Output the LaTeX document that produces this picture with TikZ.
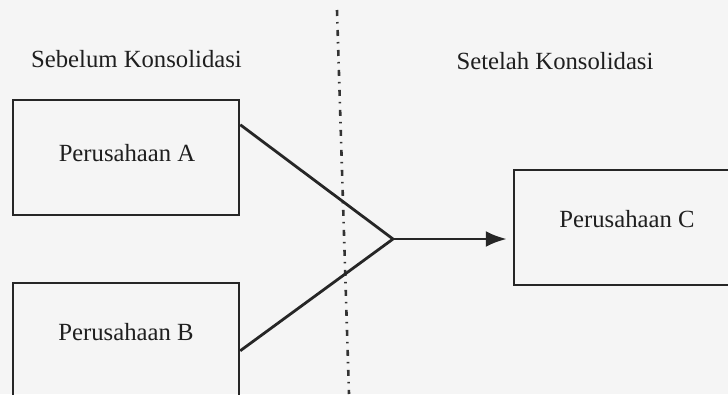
\documentclass[tikz,border=0pt]{standalone}
\usepackage{fontspec}
\setmainfont{Liberation Serif}
\usetikzlibrary{arrows.meta}
\begin{document}
\begin{tikzpicture}[x=1pt,y=-1pt,
  every node/.style={font=\fontsize{24.7}{29}\selectfont, text=black!88},
  firm/.style={draw=black!85, line width=2.5pt, rectangle, inner sep=0pt},
  link/.style={draw=black!85, line width=2.8pt},
  divider/.style={draw=black!80, line width=2.6pt,
    dash pattern=on 6pt off 6pt on 1.5pt off 6.5pt}]
  % canvas
  \fill[black!4] (0,0) rectangle (728,394);
  \useasboundingbox (0,0) rectangle (728,394);
  \clip (0,0) rectangle (728,394);

  % boundary between the two stages
  \coordinate (top) at (337,10);
  \coordinate (bottom) at (349,394);
  \draw[divider] (top) -- (bottom);

  % stage headings
  \node (before) at (136.5,59) {Sebelum Konsolidasi};
  \node (after) at (555,61) {Setelah Konsolidasi};

  % companies
  \node[firm, minimum width=226pt, minimum height=115pt] (boxA) at (126,157.5) {};
  \node[firm, minimum width=226pt, minimum height=127pt] (boxB) at (126,346.5) {};
  \node[firm, minimum width=226pt, minimum height=115pt] (boxC) at (627,227.5) {};

  \node (txtA) at (127,153) {Perusahaan A};
  \node (txtB) at (126,332) {Perusahaan B};
  \node (txtC) at (627,219) {Perusahaan C};

  % merging connectors
  \coordinate (join) at (393,239);
  \draw[link] ([yshift=-26pt]boxA.north east) -- (join);
  \draw[link] ([yshift=-69pt]boxB.north east) -- (join);
  \draw[link, -{Latex[length=21pt,width=16pt]}] (join) -- ([xshift=-6pt]join -| boxC.west);
\end{tikzpicture}
\end{document}
